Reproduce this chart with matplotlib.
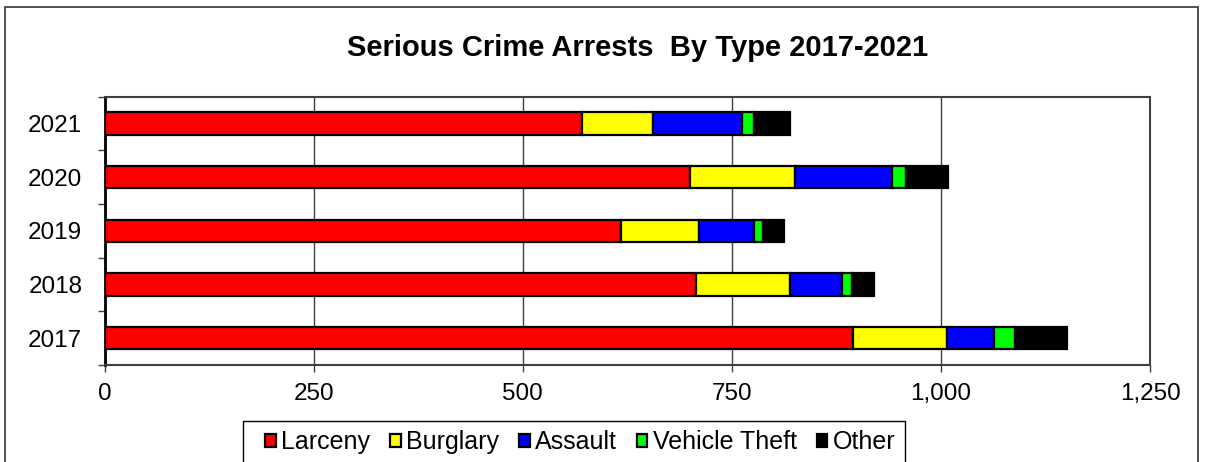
import matplotlib
matplotlib.use("Agg")
import matplotlib.pyplot as plt
import numpy as np
from matplotlib.patches import Rectangle

years = ["2017", "2018", "2019", "2020", "2021"]
categories = ["Larceny", "Burglary", "Assault", "Vehicle Theft", "Other"]
larceny = [895, 707, 618, 700, 571]
burglary = [112, 112, 93, 126, 85]
assault = [56, 63, 66, 116, 106]
vehicle_theft = [25, 12, 10, 16, 15]
other = [63, 26, 26, 50, 42]
colors = ["#FF0000", "#FFFF00", "#0000FF", "#00FF00", "#000000"]
xticks = [0, 250, 500, 750, 1000, 1250]
xticklabels = ["0", "250", "500", "750", "1,000", "1,250"]

plt.rcParams['font.family'] = ['Liberation Sans', 'DejaVu Sans']

W, H = 1205, 462
fig = plt.figure(figsize=(W / 100, H / 100), dpi=100)
ax = fig.add_axes([104.5 / W, 1 - 365 / H, (1150 - 104.5) / W, (365 - 96.7) / H])

series = [larceny, burglary, assault, vehicle_theft, other]
y = np.arange(len(years))
left = np.zeros(len(years))
handles = []
for name, vals, c in zip(categories, series, colors):
    b = ax.barh(y, vals, left=left, height=0.42, color=c, edgecolor="black",
                linewidth=1.6, label=name, zorder=3)
    handles.append(b)
    left += np.array(vals)

ax.set_xlim(0, 1250)
ax.set_ylim(-0.5, 4.5)
ax.set_xticks(xticks)
ax.set_xticklabels(xticklabels, fontsize=17.5)
ax.set_yticks(y)
ax.set_yticklabels(years, fontsize=17.5)
ax.set_yticks(np.arange(-0.5, 5, 1), minor=True)
ax.tick_params(axis="y", which="major", length=0, pad=16)
ax.tick_params(axis="y", which="minor", length=5, width=1, color="#404040", direction="out")
ax.tick_params(axis="x", which="major", length=5, width=1, color="#404040", direction="out", pad=8)

ax.xaxis.grid(True, color="#404040", linewidth=1.0, zorder=0)
ax.set_axisbelow(True)
for s in ["top", "right", "bottom"]:
    ax.spines[s].set_color("#404040")
    ax.spines[s].set_linewidth(1.5)
ax.spines["left"].set_color("black")
ax.spines["left"].set_linewidth(2.0)

fig.text(637.5 / W, 1 - 48 / H, "Serious Crime Arrests  By Type 2017-2021",
         ha="center", va="center", fontsize=21, fontweight="bold")

leg = fig.legend(handles=handles, labels=categories, loc="upper left",
                 bbox_to_anchor=(265 / W, 1 - 430 / H), ncol=5, fontsize=18,
                 frameon=False,
                 handlelength=0.42, handleheight=0.42, handletextpad=0.22,
                 columnspacing=0.8, borderpad=0, borderaxespad=0)

# legend frame
fig.patches.append(Rectangle((243 / W, -0.1), (905 - 243) / W, 0.1 + (462 - 420.5) / H,
                             transform=fig.transFigure, fill=False,
                             edgecolor="black", linewidth=1.0))

# outer chart border
fig.patches.append(Rectangle((5 / W, -0.1), (1198.3 - 5) / W, 1.1 - 7 / H,
                             transform=fig.transFigure, fill=False,
                             edgecolor="#333333", linewidth=1.2))

fig.savefig("out.png", dpi=100)
